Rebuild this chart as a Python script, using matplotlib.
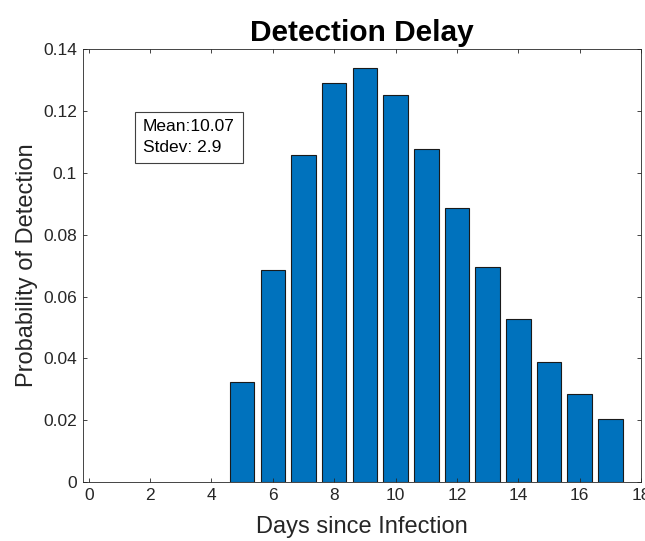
import matplotlib
matplotlib.use("Agg")
import matplotlib.pyplot as plt

plt.rcParams['font.family'] = ['Liberation Sans', 'DejaVu Sans']

# данные: задержка обнаружения по дням
days = [5, 6, 7, 8, 9, 10, 11, 12, 13, 14, 15, 16, 17]
prob = [0.0322, 0.0687, 0.1058, 0.1290, 0.1339, 0.1251, 0.1078, 0.0885,
        0.0695, 0.0527, 0.0389, 0.0285, 0.0205]
xticks = [0, 2, 4, 6, 8, 10, 12, 14, 16, 18]
yticks = [0, 0.02, 0.04, 0.06, 0.08, 0.1, 0.12, 0.14]
ytick_labels = ['0', '0.02', '0.04', '0.06', '0.08', '0.1', '0.12', '0.14']
stats_text = "Mean:10.07\nStdev: 2.9"

fig = plt.figure(figsize=(6.45, 5.41), dpi=100)
ax = fig.add_axes([0.128, 0.109, 0.866, 0.800])

ax.bar(days, prob, width=0.8, color='#0072BD', edgecolor='#1a1a1a', linewidth=0.8)

ax.set_xlim(-0.2, 18)
ax.set_ylim(0, 0.14)
ax.set_xticks(xticks)
ax.set_yticks(yticks)
ax.set_yticklabels(ytick_labels)
ax.tick_params(direction='in', top=True, right=True, labelsize=12.5,
               colors='#262626', length=3, width=0.6, pad=4)
for s in ax.spines.values():
    s.set_color('#262626')
    s.set_linewidth(0.6)

ax.set_xlabel('Days since Infection', fontsize=17, color='#262626', labelpad=10)
ax.set_ylabel('Probability of Detection', fontsize=17, color='#262626', labelpad=4)
ax.set_title('Detection Delay', fontsize=21.5, fontweight='bold', pad=6)

ax.text(0.108, 0.838, stats_text, transform=ax.transAxes, fontsize=12.5,
        va='top', ha='left', linespacing=1.5,
        bbox=dict(boxstyle='square,pad=0.45', facecolor='white', edgecolor='#404040', linewidth=0.8))

fig.savefig('out.png', dpi=100)
